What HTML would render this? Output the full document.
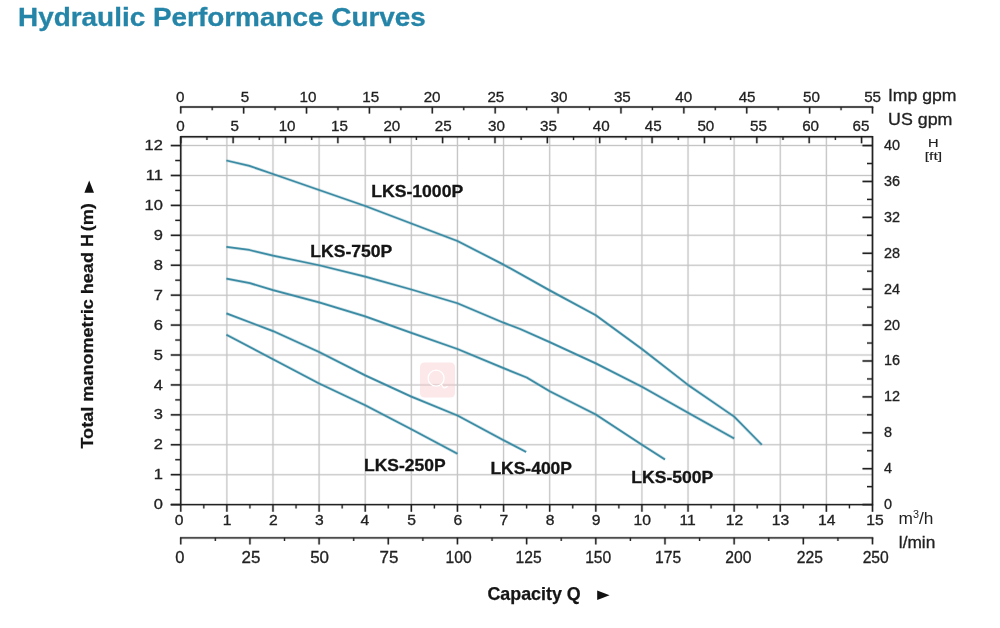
<!DOCTYPE html>
<html lang="en"><head><meta charset="utf-8"><title>Hydraulic Performance Curves</title>
<style>
html,body{margin:0;padding:0;background:#fff;}
body{width:1000px;height:628px;overflow:hidden;position:relative;font-family:"Liberation Sans",Arial,sans-serif;}
h1{-webkit-text-stroke:0.3px #2585a8;position:absolute;left:17.9px;top:0.6px;transform:scaleX(1.053);margin:0;font-size:26.5px;line-height:32px;font-weight:bold;color:#2585a8;white-space:nowrap;transform-origin:0 0;}
svg{position:absolute;left:0;top:0;}
svg text{font-family:"Liberation Sans",Arial,sans-serif;}
</style></head><body>
<h1 id="ttl">Hydraulic Performance Curves</h1>
<svg width="1000" height="628" viewBox="0 0 1000 628">
<g>
<line x1="226.87" y1="136.80" x2="226.87" y2="504.60" stroke="#c5c5c5" stroke-width="2.40" stroke-opacity="0.22"/>
<line x1="226.87" y1="136.80" x2="226.87" y2="504.60" stroke="#c5c5c5" stroke-width="1.05"/>
<line x1="272.98" y1="136.80" x2="272.98" y2="504.60" stroke="#c5c5c5" stroke-width="2.40" stroke-opacity="0.22"/>
<line x1="272.98" y1="136.80" x2="272.98" y2="504.60" stroke="#c5c5c5" stroke-width="1.05"/>
<line x1="319.10" y1="136.80" x2="319.10" y2="504.60" stroke="#c5c5c5" stroke-width="2.40" stroke-opacity="0.22"/>
<line x1="319.10" y1="136.80" x2="319.10" y2="504.60" stroke="#c5c5c5" stroke-width="1.05"/>
<line x1="365.22" y1="136.80" x2="365.22" y2="504.60" stroke="#c5c5c5" stroke-width="2.40" stroke-opacity="0.22"/>
<line x1="365.22" y1="136.80" x2="365.22" y2="504.60" stroke="#c5c5c5" stroke-width="1.05"/>
<line x1="411.33" y1="136.80" x2="411.33" y2="504.60" stroke="#c5c5c5" stroke-width="2.40" stroke-opacity="0.22"/>
<line x1="411.33" y1="136.80" x2="411.33" y2="504.60" stroke="#c5c5c5" stroke-width="1.05"/>
<line x1="457.45" y1="136.80" x2="457.45" y2="504.60" stroke="#c5c5c5" stroke-width="2.40" stroke-opacity="0.22"/>
<line x1="457.45" y1="136.80" x2="457.45" y2="504.60" stroke="#c5c5c5" stroke-width="1.05"/>
<line x1="503.57" y1="136.80" x2="503.57" y2="504.60" stroke="#c5c5c5" stroke-width="2.40" stroke-opacity="0.22"/>
<line x1="503.57" y1="136.80" x2="503.57" y2="504.60" stroke="#c5c5c5" stroke-width="1.05"/>
<line x1="549.69" y1="136.80" x2="549.69" y2="504.60" stroke="#c5c5c5" stroke-width="2.40" stroke-opacity="0.22"/>
<line x1="549.69" y1="136.80" x2="549.69" y2="504.60" stroke="#c5c5c5" stroke-width="1.05"/>
<line x1="595.80" y1="136.80" x2="595.80" y2="504.60" stroke="#c5c5c5" stroke-width="2.40" stroke-opacity="0.22"/>
<line x1="595.80" y1="136.80" x2="595.80" y2="504.60" stroke="#c5c5c5" stroke-width="1.05"/>
<line x1="641.92" y1="136.80" x2="641.92" y2="504.60" stroke="#c5c5c5" stroke-width="2.40" stroke-opacity="0.22"/>
<line x1="641.92" y1="136.80" x2="641.92" y2="504.60" stroke="#c5c5c5" stroke-width="1.05"/>
<line x1="688.04" y1="136.80" x2="688.04" y2="504.60" stroke="#c5c5c5" stroke-width="2.40" stroke-opacity="0.22"/>
<line x1="688.04" y1="136.80" x2="688.04" y2="504.60" stroke="#c5c5c5" stroke-width="1.05"/>
<line x1="734.15" y1="136.80" x2="734.15" y2="504.60" stroke="#c5c5c5" stroke-width="2.40" stroke-opacity="0.22"/>
<line x1="734.15" y1="136.80" x2="734.15" y2="504.60" stroke="#c5c5c5" stroke-width="1.05"/>
<line x1="780.27" y1="136.80" x2="780.27" y2="504.60" stroke="#c5c5c5" stroke-width="2.40" stroke-opacity="0.22"/>
<line x1="780.27" y1="136.80" x2="780.27" y2="504.60" stroke="#c5c5c5" stroke-width="1.05"/>
<line x1="826.39" y1="136.80" x2="826.39" y2="504.60" stroke="#c5c5c5" stroke-width="2.40" stroke-opacity="0.22"/>
<line x1="826.39" y1="136.80" x2="826.39" y2="504.60" stroke="#c5c5c5" stroke-width="1.05"/>
<line x1="180.75" y1="474.68" x2="872.50" y2="474.68" stroke="#c5c5c5" stroke-width="2.40" stroke-opacity="0.22"/>
<line x1="180.75" y1="474.68" x2="872.50" y2="474.68" stroke="#c5c5c5" stroke-width="1.05"/>
<line x1="180.75" y1="444.76" x2="872.50" y2="444.76" stroke="#c5c5c5" stroke-width="2.40" stroke-opacity="0.22"/>
<line x1="180.75" y1="444.76" x2="872.50" y2="444.76" stroke="#c5c5c5" stroke-width="1.05"/>
<line x1="180.75" y1="414.84" x2="872.50" y2="414.84" stroke="#c5c5c5" stroke-width="2.40" stroke-opacity="0.22"/>
<line x1="180.75" y1="414.84" x2="872.50" y2="414.84" stroke="#c5c5c5" stroke-width="1.05"/>
<line x1="180.75" y1="384.92" x2="872.50" y2="384.92" stroke="#c5c5c5" stroke-width="2.40" stroke-opacity="0.22"/>
<line x1="180.75" y1="384.92" x2="872.50" y2="384.92" stroke="#c5c5c5" stroke-width="1.05"/>
<line x1="180.75" y1="355.00" x2="872.50" y2="355.00" stroke="#c5c5c5" stroke-width="2.40" stroke-opacity="0.22"/>
<line x1="180.75" y1="355.00" x2="872.50" y2="355.00" stroke="#c5c5c5" stroke-width="1.05"/>
<line x1="180.75" y1="325.08" x2="872.50" y2="325.08" stroke="#c5c5c5" stroke-width="2.40" stroke-opacity="0.22"/>
<line x1="180.75" y1="325.08" x2="872.50" y2="325.08" stroke="#c5c5c5" stroke-width="1.05"/>
<line x1="180.75" y1="295.16" x2="872.50" y2="295.16" stroke="#c5c5c5" stroke-width="2.40" stroke-opacity="0.22"/>
<line x1="180.75" y1="295.16" x2="872.50" y2="295.16" stroke="#c5c5c5" stroke-width="1.05"/>
<line x1="180.75" y1="265.24" x2="872.50" y2="265.24" stroke="#c5c5c5" stroke-width="2.40" stroke-opacity="0.22"/>
<line x1="180.75" y1="265.24" x2="872.50" y2="265.24" stroke="#c5c5c5" stroke-width="1.05"/>
<line x1="180.75" y1="235.32" x2="872.50" y2="235.32" stroke="#c5c5c5" stroke-width="2.40" stroke-opacity="0.22"/>
<line x1="180.75" y1="235.32" x2="872.50" y2="235.32" stroke="#c5c5c5" stroke-width="1.05"/>
<line x1="180.75" y1="205.40" x2="872.50" y2="205.40" stroke="#c5c5c5" stroke-width="2.40" stroke-opacity="0.22"/>
<line x1="180.75" y1="205.40" x2="872.50" y2="205.40" stroke="#c5c5c5" stroke-width="1.05"/>
<line x1="180.75" y1="175.48" x2="872.50" y2="175.48" stroke="#c5c5c5" stroke-width="2.40" stroke-opacity="0.22"/>
<line x1="180.75" y1="175.48" x2="872.50" y2="175.48" stroke="#c5c5c5" stroke-width="1.05"/>
<line x1="180.75" y1="145.56" x2="872.50" y2="145.56" stroke="#c5c5c5" stroke-width="2.40" stroke-opacity="0.22"/>
<line x1="180.75" y1="145.56" x2="872.50" y2="145.56" stroke="#c5c5c5" stroke-width="1.05"/>
</g>
<g><rect x="420" y="362.5" width="35" height="35" rx="4.5" fill="#f6bfc4" fill-opacity="0.37"/><circle cx="436.1" cy="378.2" r="8" fill="none" stroke="#fff" stroke-width="1.3"/><path d="M441.5 384.6 Q443.5 390 447.3 386.6" fill="none" stroke="#fff" stroke-width="1.3" stroke-linecap="round"/></g>
<path d="M226.41 160.52 L249.46 165.91 L272.98 173.98 L365.22 206.00 L457.45 241.00 L503.57 264.64 L549.69 290.37 L595.80 315.21 L641.92 349.02 L688.04 384.92 L734.15 416.64 L761.82 444.76" fill="none" stroke="#3a8ba3" stroke-width="3.2" stroke-opacity="0.25" stroke-linejoin="round"/>
<path d="M226.41 160.52 L249.46 165.91 L272.98 173.98 L365.22 206.00 L457.45 241.00 L503.57 264.64 L549.69 290.37 L595.80 315.21 L641.92 349.02 L688.04 384.92 L734.15 416.64 L761.82 444.76" fill="none" stroke="#3a8ba3" stroke-width="1.75" stroke-linejoin="round"/>
<path d="M226.41 246.99 L249.46 249.98 L272.98 255.67 L319.10 265.24 L365.22 276.61 L411.33 289.48 L457.45 303.24 L503.57 322.69 L520.17 328.97 L549.69 342.13 L595.80 363.38 L641.92 386.72 L688.04 412.75 L734.15 438.48" fill="none" stroke="#3a8ba3" stroke-width="3.2" stroke-opacity="0.25" stroke-linejoin="round"/>
<path d="M226.41 246.99 L249.46 249.98 L272.98 255.67 L319.10 265.24 L365.22 276.61 L411.33 289.48 L457.45 303.24 L503.57 322.69 L520.17 328.97 L549.69 342.13 L595.80 363.38 L641.92 386.72 L688.04 412.75 L734.15 438.48" fill="none" stroke="#3a8ba3" stroke-width="1.75" stroke-linejoin="round"/>
<path d="M226.41 278.70 L249.93 283.19 L272.98 290.07 L319.10 302.34 L365.22 316.40 L411.33 332.86 L457.45 349.02 L503.57 368.16 L526.63 377.44 L549.69 391.20 L595.80 414.54 L641.92 444.76 L664.98 459.42" fill="none" stroke="#3a8ba3" stroke-width="3.2" stroke-opacity="0.25" stroke-linejoin="round"/>
<path d="M226.41 278.70 L249.93 283.19 L272.98 290.07 L319.10 302.34 L365.22 316.40 L411.33 332.86 L457.45 349.02 L503.57 368.16 L526.63 377.44 L549.69 391.20 L595.80 414.54 L641.92 444.76 L664.98 459.42" fill="none" stroke="#3a8ba3" stroke-width="1.75" stroke-linejoin="round"/>
<path d="M226.41 313.41 L272.98 331.06 L319.10 352.01 L365.22 375.35 L411.33 396.59 L457.45 415.44 L503.57 440.27 L526.17 451.94" fill="none" stroke="#3a8ba3" stroke-width="3.2" stroke-opacity="0.25" stroke-linejoin="round"/>
<path d="M226.41 313.41 L272.98 331.06 L319.10 352.01 L365.22 375.35 L411.33 396.59 L457.45 415.44 L503.57 440.27 L526.17 451.94" fill="none" stroke="#3a8ba3" stroke-width="1.75" stroke-linejoin="round"/>
<path d="M226.41 334.65 L272.98 359.19 L319.10 383.42 L365.22 405.27 L411.33 429.20 L457.45 453.74" fill="none" stroke="#3a8ba3" stroke-width="3.2" stroke-opacity="0.25" stroke-linejoin="round"/>
<path d="M226.41 334.65 L272.98 359.19 L319.10 383.42 L365.22 405.27 L411.33 429.20 L457.45 453.74" fill="none" stroke="#3a8ba3" stroke-width="1.75" stroke-linejoin="round"/>
<line x1="180.75" y1="136.05" x2="180.75" y2="505.35" stroke="#222" stroke-width="2.80" stroke-opacity="0.22"/>
<line x1="180.75" y1="136.05" x2="180.75" y2="505.35" stroke="#222" stroke-width="1.45"/>
<line x1="872.50" y1="136.05" x2="872.50" y2="505.35" stroke="#222" stroke-width="2.80" stroke-opacity="0.22"/>
<line x1="872.50" y1="136.05" x2="872.50" y2="505.35" stroke="#222" stroke-width="1.45"/>
<line x1="180.75" y1="136.80" x2="872.50" y2="136.80" stroke="#222" stroke-width="2.80" stroke-opacity="0.22"/>
<line x1="180.75" y1="136.80" x2="872.50" y2="136.80" stroke="#222" stroke-width="1.45"/>
<line x1="170.75" y1="504.60" x2="872.50" y2="504.60" stroke="#222" stroke-width="2.80" stroke-opacity="0.22"/>
<line x1="170.75" y1="504.60" x2="872.50" y2="504.60" stroke="#222" stroke-width="1.45"/>
<line x1="170.75" y1="504.60" x2="180.75" y2="504.60" stroke="#222" stroke-width="2.80" stroke-opacity="0.22"/>
<line x1="170.75" y1="504.60" x2="180.75" y2="504.60" stroke="#222" stroke-width="1.45"/>
<text transform="translate(162.80,509.20) scale(1.16,1)" font-size="14.2" text-anchor="end" font-weight="normal" fill="#222" stroke="#222" stroke-width="0.3">0</text>
<line x1="175.25" y1="489.64" x2="180.75" y2="489.64" stroke="#222" stroke-width="2.60" stroke-opacity="0.22"/>
<line x1="175.25" y1="489.64" x2="180.75" y2="489.64" stroke="#222" stroke-width="1.25"/>
<line x1="170.75" y1="474.68" x2="180.75" y2="474.68" stroke="#222" stroke-width="2.80" stroke-opacity="0.22"/>
<line x1="170.75" y1="474.68" x2="180.75" y2="474.68" stroke="#222" stroke-width="1.45"/>
<text transform="translate(162.80,479.28) scale(1.16,1)" font-size="14.2" text-anchor="end" font-weight="normal" fill="#222" stroke="#222" stroke-width="0.3">1</text>
<line x1="175.25" y1="459.72" x2="180.75" y2="459.72" stroke="#222" stroke-width="2.60" stroke-opacity="0.22"/>
<line x1="175.25" y1="459.72" x2="180.75" y2="459.72" stroke="#222" stroke-width="1.25"/>
<line x1="170.75" y1="444.76" x2="180.75" y2="444.76" stroke="#222" stroke-width="2.80" stroke-opacity="0.22"/>
<line x1="170.75" y1="444.76" x2="180.75" y2="444.76" stroke="#222" stroke-width="1.45"/>
<text transform="translate(162.80,449.36) scale(1.16,1)" font-size="14.2" text-anchor="end" font-weight="normal" fill="#222" stroke="#222" stroke-width="0.3">2</text>
<line x1="175.25" y1="429.80" x2="180.75" y2="429.80" stroke="#222" stroke-width="2.60" stroke-opacity="0.22"/>
<line x1="175.25" y1="429.80" x2="180.75" y2="429.80" stroke="#222" stroke-width="1.25"/>
<line x1="170.75" y1="414.84" x2="180.75" y2="414.84" stroke="#222" stroke-width="2.80" stroke-opacity="0.22"/>
<line x1="170.75" y1="414.84" x2="180.75" y2="414.84" stroke="#222" stroke-width="1.45"/>
<text transform="translate(162.80,419.44) scale(1.16,1)" font-size="14.2" text-anchor="end" font-weight="normal" fill="#222" stroke="#222" stroke-width="0.3">3</text>
<line x1="175.25" y1="399.88" x2="180.75" y2="399.88" stroke="#222" stroke-width="2.60" stroke-opacity="0.22"/>
<line x1="175.25" y1="399.88" x2="180.75" y2="399.88" stroke="#222" stroke-width="1.25"/>
<line x1="170.75" y1="384.92" x2="180.75" y2="384.92" stroke="#222" stroke-width="2.80" stroke-opacity="0.22"/>
<line x1="170.75" y1="384.92" x2="180.75" y2="384.92" stroke="#222" stroke-width="1.45"/>
<text transform="translate(162.80,389.52) scale(1.16,1)" font-size="14.2" text-anchor="end" font-weight="normal" fill="#222" stroke="#222" stroke-width="0.3">4</text>
<line x1="175.25" y1="369.96" x2="180.75" y2="369.96" stroke="#222" stroke-width="2.60" stroke-opacity="0.22"/>
<line x1="175.25" y1="369.96" x2="180.75" y2="369.96" stroke="#222" stroke-width="1.25"/>
<line x1="170.75" y1="355.00" x2="180.75" y2="355.00" stroke="#222" stroke-width="2.80" stroke-opacity="0.22"/>
<line x1="170.75" y1="355.00" x2="180.75" y2="355.00" stroke="#222" stroke-width="1.45"/>
<text transform="translate(162.80,359.60) scale(1.16,1)" font-size="14.2" text-anchor="end" font-weight="normal" fill="#222" stroke="#222" stroke-width="0.3">5</text>
<line x1="175.25" y1="340.04" x2="180.75" y2="340.04" stroke="#222" stroke-width="2.60" stroke-opacity="0.22"/>
<line x1="175.25" y1="340.04" x2="180.75" y2="340.04" stroke="#222" stroke-width="1.25"/>
<line x1="170.75" y1="325.08" x2="180.75" y2="325.08" stroke="#222" stroke-width="2.80" stroke-opacity="0.22"/>
<line x1="170.75" y1="325.08" x2="180.75" y2="325.08" stroke="#222" stroke-width="1.45"/>
<text transform="translate(162.80,329.68) scale(1.16,1)" font-size="14.2" text-anchor="end" font-weight="normal" fill="#222" stroke="#222" stroke-width="0.3">6</text>
<line x1="175.25" y1="310.12" x2="180.75" y2="310.12" stroke="#222" stroke-width="2.60" stroke-opacity="0.22"/>
<line x1="175.25" y1="310.12" x2="180.75" y2="310.12" stroke="#222" stroke-width="1.25"/>
<line x1="170.75" y1="295.16" x2="180.75" y2="295.16" stroke="#222" stroke-width="2.80" stroke-opacity="0.22"/>
<line x1="170.75" y1="295.16" x2="180.75" y2="295.16" stroke="#222" stroke-width="1.45"/>
<text transform="translate(162.80,299.76) scale(1.16,1)" font-size="14.2" text-anchor="end" font-weight="normal" fill="#222" stroke="#222" stroke-width="0.3">7</text>
<line x1="175.25" y1="280.20" x2="180.75" y2="280.20" stroke="#222" stroke-width="2.60" stroke-opacity="0.22"/>
<line x1="175.25" y1="280.20" x2="180.75" y2="280.20" stroke="#222" stroke-width="1.25"/>
<line x1="170.75" y1="265.24" x2="180.75" y2="265.24" stroke="#222" stroke-width="2.80" stroke-opacity="0.22"/>
<line x1="170.75" y1="265.24" x2="180.75" y2="265.24" stroke="#222" stroke-width="1.45"/>
<text transform="translate(162.80,269.84) scale(1.16,1)" font-size="14.2" text-anchor="end" font-weight="normal" fill="#222" stroke="#222" stroke-width="0.3">8</text>
<line x1="175.25" y1="250.28" x2="180.75" y2="250.28" stroke="#222" stroke-width="2.60" stroke-opacity="0.22"/>
<line x1="175.25" y1="250.28" x2="180.75" y2="250.28" stroke="#222" stroke-width="1.25"/>
<line x1="170.75" y1="235.32" x2="180.75" y2="235.32" stroke="#222" stroke-width="2.80" stroke-opacity="0.22"/>
<line x1="170.75" y1="235.32" x2="180.75" y2="235.32" stroke="#222" stroke-width="1.45"/>
<text transform="translate(162.80,239.92) scale(1.16,1)" font-size="14.2" text-anchor="end" font-weight="normal" fill="#222" stroke="#222" stroke-width="0.3">9</text>
<line x1="175.25" y1="220.36" x2="180.75" y2="220.36" stroke="#222" stroke-width="2.60" stroke-opacity="0.22"/>
<line x1="175.25" y1="220.36" x2="180.75" y2="220.36" stroke="#222" stroke-width="1.25"/>
<line x1="170.75" y1="205.40" x2="180.75" y2="205.40" stroke="#222" stroke-width="2.80" stroke-opacity="0.22"/>
<line x1="170.75" y1="205.40" x2="180.75" y2="205.40" stroke="#222" stroke-width="1.45"/>
<text transform="translate(162.80,210.00) scale(1.16,1)" font-size="14.2" text-anchor="end" font-weight="normal" fill="#222" stroke="#222" stroke-width="0.3">10</text>
<line x1="175.25" y1="190.44" x2="180.75" y2="190.44" stroke="#222" stroke-width="2.60" stroke-opacity="0.22"/>
<line x1="175.25" y1="190.44" x2="180.75" y2="190.44" stroke="#222" stroke-width="1.25"/>
<line x1="170.75" y1="175.48" x2="180.75" y2="175.48" stroke="#222" stroke-width="2.80" stroke-opacity="0.22"/>
<line x1="170.75" y1="175.48" x2="180.75" y2="175.48" stroke="#222" stroke-width="1.45"/>
<text transform="translate(162.80,180.08) scale(1.16,1)" font-size="14.2" text-anchor="end" font-weight="normal" fill="#222" stroke="#222" stroke-width="0.3">11</text>
<line x1="175.25" y1="160.52" x2="180.75" y2="160.52" stroke="#222" stroke-width="2.60" stroke-opacity="0.22"/>
<line x1="175.25" y1="160.52" x2="180.75" y2="160.52" stroke="#222" stroke-width="1.25"/>
<line x1="170.75" y1="145.56" x2="180.75" y2="145.56" stroke="#222" stroke-width="2.80" stroke-opacity="0.22"/>
<line x1="170.75" y1="145.56" x2="180.75" y2="145.56" stroke="#222" stroke-width="1.45"/>
<text transform="translate(162.80,150.16) scale(1.16,1)" font-size="14.2" text-anchor="end" font-weight="normal" fill="#222" stroke="#222" stroke-width="0.3">12</text>
<line x1="862.50" y1="504.60" x2="872.50" y2="504.60" stroke="#222" stroke-width="2.80" stroke-opacity="0.22"/>
<line x1="862.50" y1="504.60" x2="872.50" y2="504.60" stroke="#222" stroke-width="1.45"/>
<text transform="translate(884.00,509.10) scale(1.03,1)" font-size="14" text-anchor="start" font-weight="normal" fill="#222" stroke="#222" stroke-width="0.3">0</text>
<line x1="867.00" y1="486.65" x2="872.50" y2="486.65" stroke="#222" stroke-width="2.60" stroke-opacity="0.22"/>
<line x1="867.00" y1="486.65" x2="872.50" y2="486.65" stroke="#222" stroke-width="1.25"/>
<line x1="862.50" y1="468.70" x2="872.50" y2="468.70" stroke="#222" stroke-width="2.80" stroke-opacity="0.22"/>
<line x1="862.50" y1="468.70" x2="872.50" y2="468.70" stroke="#222" stroke-width="1.45"/>
<text transform="translate(884.00,473.20) scale(1.03,1)" font-size="14" text-anchor="start" font-weight="normal" fill="#222" stroke="#222" stroke-width="0.3">4</text>
<line x1="867.00" y1="450.74" x2="872.50" y2="450.74" stroke="#222" stroke-width="2.60" stroke-opacity="0.22"/>
<line x1="867.00" y1="450.74" x2="872.50" y2="450.74" stroke="#222" stroke-width="1.25"/>
<line x1="862.50" y1="432.79" x2="872.50" y2="432.79" stroke="#222" stroke-width="2.80" stroke-opacity="0.22"/>
<line x1="862.50" y1="432.79" x2="872.50" y2="432.79" stroke="#222" stroke-width="1.45"/>
<text transform="translate(884.00,437.29) scale(1.03,1)" font-size="14" text-anchor="start" font-weight="normal" fill="#222" stroke="#222" stroke-width="0.3">8</text>
<line x1="867.00" y1="414.84" x2="872.50" y2="414.84" stroke="#222" stroke-width="2.60" stroke-opacity="0.22"/>
<line x1="867.00" y1="414.84" x2="872.50" y2="414.84" stroke="#222" stroke-width="1.25"/>
<line x1="862.50" y1="396.89" x2="872.50" y2="396.89" stroke="#222" stroke-width="2.80" stroke-opacity="0.22"/>
<line x1="862.50" y1="396.89" x2="872.50" y2="396.89" stroke="#222" stroke-width="1.45"/>
<text transform="translate(884.00,401.39) scale(1.03,1)" font-size="14" text-anchor="start" font-weight="normal" fill="#222" stroke="#222" stroke-width="0.3">12</text>
<line x1="867.00" y1="378.94" x2="872.50" y2="378.94" stroke="#222" stroke-width="2.60" stroke-opacity="0.22"/>
<line x1="867.00" y1="378.94" x2="872.50" y2="378.94" stroke="#222" stroke-width="1.25"/>
<line x1="862.50" y1="360.98" x2="872.50" y2="360.98" stroke="#222" stroke-width="2.80" stroke-opacity="0.22"/>
<line x1="862.50" y1="360.98" x2="872.50" y2="360.98" stroke="#222" stroke-width="1.45"/>
<text transform="translate(884.00,365.48) scale(1.03,1)" font-size="14" text-anchor="start" font-weight="normal" fill="#222" stroke="#222" stroke-width="0.3">16</text>
<line x1="867.00" y1="343.03" x2="872.50" y2="343.03" stroke="#222" stroke-width="2.60" stroke-opacity="0.22"/>
<line x1="867.00" y1="343.03" x2="872.50" y2="343.03" stroke="#222" stroke-width="1.25"/>
<line x1="862.50" y1="325.08" x2="872.50" y2="325.08" stroke="#222" stroke-width="2.80" stroke-opacity="0.22"/>
<line x1="862.50" y1="325.08" x2="872.50" y2="325.08" stroke="#222" stroke-width="1.45"/>
<text transform="translate(884.00,329.58) scale(1.03,1)" font-size="14" text-anchor="start" font-weight="normal" fill="#222" stroke="#222" stroke-width="0.3">20</text>
<line x1="867.00" y1="307.13" x2="872.50" y2="307.13" stroke="#222" stroke-width="2.60" stroke-opacity="0.22"/>
<line x1="867.00" y1="307.13" x2="872.50" y2="307.13" stroke="#222" stroke-width="1.25"/>
<line x1="862.50" y1="289.18" x2="872.50" y2="289.18" stroke="#222" stroke-width="2.80" stroke-opacity="0.22"/>
<line x1="862.50" y1="289.18" x2="872.50" y2="289.18" stroke="#222" stroke-width="1.45"/>
<text transform="translate(884.00,293.68) scale(1.03,1)" font-size="14" text-anchor="start" font-weight="normal" fill="#222" stroke="#222" stroke-width="0.3">24</text>
<line x1="867.00" y1="271.22" x2="872.50" y2="271.22" stroke="#222" stroke-width="2.60" stroke-opacity="0.22"/>
<line x1="867.00" y1="271.22" x2="872.50" y2="271.22" stroke="#222" stroke-width="1.25"/>
<line x1="862.50" y1="253.27" x2="872.50" y2="253.27" stroke="#222" stroke-width="2.80" stroke-opacity="0.22"/>
<line x1="862.50" y1="253.27" x2="872.50" y2="253.27" stroke="#222" stroke-width="1.45"/>
<text transform="translate(884.00,257.77) scale(1.03,1)" font-size="14" text-anchor="start" font-weight="normal" fill="#222" stroke="#222" stroke-width="0.3">28</text>
<line x1="867.00" y1="235.32" x2="872.50" y2="235.32" stroke="#222" stroke-width="2.60" stroke-opacity="0.22"/>
<line x1="867.00" y1="235.32" x2="872.50" y2="235.32" stroke="#222" stroke-width="1.25"/>
<line x1="862.50" y1="217.37" x2="872.50" y2="217.37" stroke="#222" stroke-width="2.80" stroke-opacity="0.22"/>
<line x1="862.50" y1="217.37" x2="872.50" y2="217.37" stroke="#222" stroke-width="1.45"/>
<text transform="translate(884.00,221.87) scale(1.03,1)" font-size="14" text-anchor="start" font-weight="normal" fill="#222" stroke="#222" stroke-width="0.3">32</text>
<line x1="867.00" y1="199.42" x2="872.50" y2="199.42" stroke="#222" stroke-width="2.60" stroke-opacity="0.22"/>
<line x1="867.00" y1="199.42" x2="872.50" y2="199.42" stroke="#222" stroke-width="1.25"/>
<line x1="862.50" y1="181.46" x2="872.50" y2="181.46" stroke="#222" stroke-width="2.80" stroke-opacity="0.22"/>
<line x1="862.50" y1="181.46" x2="872.50" y2="181.46" stroke="#222" stroke-width="1.45"/>
<text transform="translate(884.00,185.96) scale(1.03,1)" font-size="14" text-anchor="start" font-weight="normal" fill="#222" stroke="#222" stroke-width="0.3">36</text>
<line x1="867.00" y1="163.51" x2="872.50" y2="163.51" stroke="#222" stroke-width="2.60" stroke-opacity="0.22"/>
<line x1="867.00" y1="163.51" x2="872.50" y2="163.51" stroke="#222" stroke-width="1.25"/>
<line x1="862.50" y1="145.56" x2="872.50" y2="145.56" stroke="#222" stroke-width="2.80" stroke-opacity="0.22"/>
<line x1="862.50" y1="145.56" x2="872.50" y2="145.56" stroke="#222" stroke-width="1.45"/>
<text transform="translate(884.00,150.06) scale(1.03,1)" font-size="14" text-anchor="start" font-weight="normal" fill="#222" stroke="#222" stroke-width="0.3">40</text>
<line x1="180.75" y1="504.60" x2="180.75" y2="511.80" stroke="#222" stroke-width="2.70" stroke-opacity="0.22"/>
<line x1="180.75" y1="504.60" x2="180.75" y2="511.80" stroke="#222" stroke-width="1.35"/>
<text transform="translate(179.05,525.40) scale(1.12,1)" font-size="14" text-anchor="middle" font-weight="normal" fill="#222" stroke="#222" stroke-width="0.3">0</text>
<line x1="203.81" y1="504.60" x2="203.81" y2="508.40" stroke="#222" stroke-width="2.50" stroke-opacity="0.22"/>
<line x1="203.81" y1="504.60" x2="203.81" y2="508.40" stroke="#222" stroke-width="1.15"/>
<line x1="226.87" y1="504.60" x2="226.87" y2="511.80" stroke="#222" stroke-width="2.70" stroke-opacity="0.22"/>
<line x1="226.87" y1="504.60" x2="226.87" y2="511.80" stroke="#222" stroke-width="1.35"/>
<text transform="translate(227.17,525.40) scale(1.12,1)" font-size="14" text-anchor="middle" font-weight="normal" fill="#222" stroke="#222" stroke-width="0.3">1</text>
<line x1="249.93" y1="504.60" x2="249.93" y2="508.40" stroke="#222" stroke-width="2.50" stroke-opacity="0.22"/>
<line x1="249.93" y1="504.60" x2="249.93" y2="508.40" stroke="#222" stroke-width="1.15"/>
<line x1="272.98" y1="504.60" x2="272.98" y2="511.80" stroke="#222" stroke-width="2.70" stroke-opacity="0.22"/>
<line x1="272.98" y1="504.60" x2="272.98" y2="511.80" stroke="#222" stroke-width="1.35"/>
<text transform="translate(273.28,525.40) scale(1.12,1)" font-size="14" text-anchor="middle" font-weight="normal" fill="#222" stroke="#222" stroke-width="0.3">2</text>
<line x1="296.04" y1="504.60" x2="296.04" y2="508.40" stroke="#222" stroke-width="2.50" stroke-opacity="0.22"/>
<line x1="296.04" y1="504.60" x2="296.04" y2="508.40" stroke="#222" stroke-width="1.15"/>
<line x1="319.10" y1="504.60" x2="319.10" y2="511.80" stroke="#222" stroke-width="2.70" stroke-opacity="0.22"/>
<line x1="319.10" y1="504.60" x2="319.10" y2="511.80" stroke="#222" stroke-width="1.35"/>
<text transform="translate(319.40,525.40) scale(1.12,1)" font-size="14" text-anchor="middle" font-weight="normal" fill="#222" stroke="#222" stroke-width="0.3">3</text>
<line x1="342.16" y1="504.60" x2="342.16" y2="508.40" stroke="#222" stroke-width="2.50" stroke-opacity="0.22"/>
<line x1="342.16" y1="504.60" x2="342.16" y2="508.40" stroke="#222" stroke-width="1.15"/>
<line x1="365.22" y1="504.60" x2="365.22" y2="511.80" stroke="#222" stroke-width="2.70" stroke-opacity="0.22"/>
<line x1="365.22" y1="504.60" x2="365.22" y2="511.80" stroke="#222" stroke-width="1.35"/>
<text transform="translate(364.82,525.40) scale(1.12,1)" font-size="14" text-anchor="middle" font-weight="normal" fill="#222" stroke="#222" stroke-width="0.3">4</text>
<line x1="388.28" y1="504.60" x2="388.28" y2="508.40" stroke="#222" stroke-width="2.50" stroke-opacity="0.22"/>
<line x1="388.28" y1="504.60" x2="388.28" y2="508.40" stroke="#222" stroke-width="1.15"/>
<line x1="411.33" y1="504.60" x2="411.33" y2="511.80" stroke="#222" stroke-width="2.70" stroke-opacity="0.22"/>
<line x1="411.33" y1="504.60" x2="411.33" y2="511.80" stroke="#222" stroke-width="1.35"/>
<text transform="translate(411.63,525.40) scale(1.12,1)" font-size="14" text-anchor="middle" font-weight="normal" fill="#222" stroke="#222" stroke-width="0.3">5</text>
<line x1="434.39" y1="504.60" x2="434.39" y2="508.40" stroke="#222" stroke-width="2.50" stroke-opacity="0.22"/>
<line x1="434.39" y1="504.60" x2="434.39" y2="508.40" stroke="#222" stroke-width="1.15"/>
<line x1="457.45" y1="504.60" x2="457.45" y2="511.80" stroke="#222" stroke-width="2.70" stroke-opacity="0.22"/>
<line x1="457.45" y1="504.60" x2="457.45" y2="511.80" stroke="#222" stroke-width="1.35"/>
<text transform="translate(457.75,525.40) scale(1.12,1)" font-size="14" text-anchor="middle" font-weight="normal" fill="#222" stroke="#222" stroke-width="0.3">6</text>
<line x1="480.51" y1="504.60" x2="480.51" y2="508.40" stroke="#222" stroke-width="2.50" stroke-opacity="0.22"/>
<line x1="480.51" y1="504.60" x2="480.51" y2="508.40" stroke="#222" stroke-width="1.15"/>
<line x1="503.57" y1="504.60" x2="503.57" y2="511.80" stroke="#222" stroke-width="2.70" stroke-opacity="0.22"/>
<line x1="503.57" y1="504.60" x2="503.57" y2="511.80" stroke="#222" stroke-width="1.35"/>
<text transform="translate(503.87,525.40) scale(1.12,1)" font-size="14" text-anchor="middle" font-weight="normal" fill="#222" stroke="#222" stroke-width="0.3">7</text>
<line x1="526.63" y1="504.60" x2="526.63" y2="508.40" stroke="#222" stroke-width="2.50" stroke-opacity="0.22"/>
<line x1="526.63" y1="504.60" x2="526.63" y2="508.40" stroke="#222" stroke-width="1.15"/>
<line x1="549.69" y1="504.60" x2="549.69" y2="511.80" stroke="#222" stroke-width="2.70" stroke-opacity="0.22"/>
<line x1="549.69" y1="504.60" x2="549.69" y2="511.80" stroke="#222" stroke-width="1.35"/>
<text transform="translate(549.99,525.40) scale(1.12,1)" font-size="14" text-anchor="middle" font-weight="normal" fill="#222" stroke="#222" stroke-width="0.3">8</text>
<line x1="572.74" y1="504.60" x2="572.74" y2="508.40" stroke="#222" stroke-width="2.50" stroke-opacity="0.22"/>
<line x1="572.74" y1="504.60" x2="572.74" y2="508.40" stroke="#222" stroke-width="1.15"/>
<line x1="595.80" y1="504.60" x2="595.80" y2="511.80" stroke="#222" stroke-width="2.70" stroke-opacity="0.22"/>
<line x1="595.80" y1="504.60" x2="595.80" y2="511.80" stroke="#222" stroke-width="1.35"/>
<text transform="translate(596.10,525.40) scale(1.12,1)" font-size="14" text-anchor="middle" font-weight="normal" fill="#222" stroke="#222" stroke-width="0.3">9</text>
<line x1="618.86" y1="504.60" x2="618.86" y2="508.40" stroke="#222" stroke-width="2.50" stroke-opacity="0.22"/>
<line x1="618.86" y1="504.60" x2="618.86" y2="508.40" stroke="#222" stroke-width="1.15"/>
<line x1="641.92" y1="504.60" x2="641.92" y2="511.80" stroke="#222" stroke-width="2.70" stroke-opacity="0.22"/>
<line x1="641.92" y1="504.60" x2="641.92" y2="511.80" stroke="#222" stroke-width="1.35"/>
<text transform="translate(642.22,525.40) scale(1.12,1)" font-size="14" text-anchor="middle" font-weight="normal" fill="#222" stroke="#222" stroke-width="0.3">10</text>
<line x1="664.98" y1="504.60" x2="664.98" y2="508.40" stroke="#222" stroke-width="2.50" stroke-opacity="0.22"/>
<line x1="664.98" y1="504.60" x2="664.98" y2="508.40" stroke="#222" stroke-width="1.15"/>
<line x1="688.04" y1="504.60" x2="688.04" y2="511.80" stroke="#222" stroke-width="2.70" stroke-opacity="0.22"/>
<line x1="688.04" y1="504.60" x2="688.04" y2="511.80" stroke="#222" stroke-width="1.35"/>
<text transform="translate(687.64,525.40) scale(1.12,1)" font-size="14" text-anchor="middle" font-weight="normal" fill="#222" stroke="#222" stroke-width="0.3">11</text>
<line x1="711.10" y1="504.60" x2="711.10" y2="508.40" stroke="#222" stroke-width="2.50" stroke-opacity="0.22"/>
<line x1="711.10" y1="504.60" x2="711.10" y2="508.40" stroke="#222" stroke-width="1.15"/>
<line x1="734.15" y1="504.60" x2="734.15" y2="511.80" stroke="#222" stroke-width="2.70" stroke-opacity="0.22"/>
<line x1="734.15" y1="504.60" x2="734.15" y2="511.80" stroke="#222" stroke-width="1.35"/>
<text transform="translate(734.45,525.40) scale(1.12,1)" font-size="14" text-anchor="middle" font-weight="normal" fill="#222" stroke="#222" stroke-width="0.3">12</text>
<line x1="757.21" y1="504.60" x2="757.21" y2="508.40" stroke="#222" stroke-width="2.50" stroke-opacity="0.22"/>
<line x1="757.21" y1="504.60" x2="757.21" y2="508.40" stroke="#222" stroke-width="1.15"/>
<line x1="780.27" y1="504.60" x2="780.27" y2="511.80" stroke="#222" stroke-width="2.70" stroke-opacity="0.22"/>
<line x1="780.27" y1="504.60" x2="780.27" y2="511.80" stroke="#222" stroke-width="1.35"/>
<text transform="translate(780.57,525.40) scale(1.12,1)" font-size="14" text-anchor="middle" font-weight="normal" fill="#222" stroke="#222" stroke-width="0.3">13</text>
<line x1="803.33" y1="504.60" x2="803.33" y2="508.40" stroke="#222" stroke-width="2.50" stroke-opacity="0.22"/>
<line x1="803.33" y1="504.60" x2="803.33" y2="508.40" stroke="#222" stroke-width="1.15"/>
<line x1="826.39" y1="504.60" x2="826.39" y2="511.80" stroke="#222" stroke-width="2.70" stroke-opacity="0.22"/>
<line x1="826.39" y1="504.60" x2="826.39" y2="511.80" stroke="#222" stroke-width="1.35"/>
<text transform="translate(826.69,525.40) scale(1.12,1)" font-size="14" text-anchor="middle" font-weight="normal" fill="#222" stroke="#222" stroke-width="0.3">14</text>
<line x1="849.45" y1="504.60" x2="849.45" y2="508.40" stroke="#222" stroke-width="2.50" stroke-opacity="0.22"/>
<line x1="849.45" y1="504.60" x2="849.45" y2="508.40" stroke="#222" stroke-width="1.15"/>
<line x1="872.50" y1="504.60" x2="872.50" y2="511.80" stroke="#222" stroke-width="2.70" stroke-opacity="0.22"/>
<line x1="872.50" y1="504.60" x2="872.50" y2="511.80" stroke="#222" stroke-width="1.35"/>
<text transform="translate(875.00,525.40) scale(1.12,1)" font-size="14" text-anchor="middle" font-weight="normal" fill="#222" stroke="#222" stroke-width="0.3">15</text>
<line x1="179.95" y1="537.80" x2="873.30" y2="537.80" stroke="#222" stroke-width="2.70" stroke-opacity="0.22"/>
<line x1="179.95" y1="537.80" x2="873.30" y2="537.80" stroke="#222" stroke-width="1.35"/>
<line x1="180.75" y1="537.80" x2="180.75" y2="544.40" stroke="#222" stroke-width="2.70" stroke-opacity="0.22"/>
<line x1="180.75" y1="537.80" x2="180.75" y2="544.40" stroke="#222" stroke-width="1.35"/>
<text transform="translate(179.95,563.00) scale(1.0,1)" font-size="16.5" text-anchor="middle" font-weight="normal" fill="#222" stroke="#222" stroke-width="0.3">0</text>
<line x1="215.34" y1="537.80" x2="215.34" y2="541.00" stroke="#222" stroke-width="2.50" stroke-opacity="0.22"/>
<line x1="215.34" y1="537.80" x2="215.34" y2="541.00" stroke="#222" stroke-width="1.15"/>
<line x1="249.93" y1="537.80" x2="249.93" y2="544.40" stroke="#222" stroke-width="2.70" stroke-opacity="0.22"/>
<line x1="249.93" y1="537.80" x2="249.93" y2="544.40" stroke="#222" stroke-width="1.35"/>
<text transform="translate(250.93,563.00) scale(1.03,1)" font-size="16.5" text-anchor="middle" font-weight="normal" fill="#222" stroke="#222" stroke-width="0.3">25</text>
<line x1="284.51" y1="537.80" x2="284.51" y2="541.00" stroke="#222" stroke-width="2.50" stroke-opacity="0.22"/>
<line x1="284.51" y1="537.80" x2="284.51" y2="541.00" stroke="#222" stroke-width="1.15"/>
<line x1="319.10" y1="537.80" x2="319.10" y2="544.40" stroke="#222" stroke-width="2.70" stroke-opacity="0.22"/>
<line x1="319.10" y1="537.80" x2="319.10" y2="544.40" stroke="#222" stroke-width="1.35"/>
<text transform="translate(319.60,563.00) scale(1.03,1)" font-size="16.5" text-anchor="middle" font-weight="normal" fill="#222" stroke="#222" stroke-width="0.3">50</text>
<line x1="353.69" y1="537.80" x2="353.69" y2="541.00" stroke="#222" stroke-width="2.50" stroke-opacity="0.22"/>
<line x1="353.69" y1="537.80" x2="353.69" y2="541.00" stroke="#222" stroke-width="1.15"/>
<line x1="388.28" y1="537.80" x2="388.28" y2="544.40" stroke="#222" stroke-width="2.70" stroke-opacity="0.22"/>
<line x1="388.28" y1="537.80" x2="388.28" y2="544.40" stroke="#222" stroke-width="1.35"/>
<text transform="translate(388.98,563.00) scale(1.03,1)" font-size="16.5" text-anchor="middle" font-weight="normal" fill="#222" stroke="#222" stroke-width="0.3">75</text>
<line x1="422.86" y1="537.80" x2="422.86" y2="541.00" stroke="#222" stroke-width="2.50" stroke-opacity="0.22"/>
<line x1="422.86" y1="537.80" x2="422.86" y2="541.00" stroke="#222" stroke-width="1.15"/>
<line x1="457.45" y1="537.80" x2="457.45" y2="544.40" stroke="#222" stroke-width="2.70" stroke-opacity="0.22"/>
<line x1="457.45" y1="537.80" x2="457.45" y2="544.40" stroke="#222" stroke-width="1.35"/>
<text transform="translate(458.65,563.00) scale(0.95,1)" font-size="16.5" text-anchor="middle" font-weight="normal" fill="#222" stroke="#222" stroke-width="0.3">100</text>
<line x1="492.04" y1="537.80" x2="492.04" y2="541.00" stroke="#222" stroke-width="2.50" stroke-opacity="0.22"/>
<line x1="492.04" y1="537.80" x2="492.04" y2="541.00" stroke="#222" stroke-width="1.15"/>
<line x1="526.63" y1="537.80" x2="526.63" y2="544.40" stroke="#222" stroke-width="2.70" stroke-opacity="0.22"/>
<line x1="526.63" y1="537.80" x2="526.63" y2="544.40" stroke="#222" stroke-width="1.35"/>
<text transform="translate(528.53,563.00) scale(0.95,1)" font-size="16.5" text-anchor="middle" font-weight="normal" fill="#222" stroke="#222" stroke-width="0.3">125</text>
<line x1="561.22" y1="537.80" x2="561.22" y2="541.00" stroke="#222" stroke-width="2.50" stroke-opacity="0.22"/>
<line x1="561.22" y1="537.80" x2="561.22" y2="541.00" stroke="#222" stroke-width="1.15"/>
<line x1="595.80" y1="537.80" x2="595.80" y2="544.40" stroke="#222" stroke-width="2.70" stroke-opacity="0.22"/>
<line x1="595.80" y1="537.80" x2="595.80" y2="544.40" stroke="#222" stroke-width="1.35"/>
<text transform="translate(598.20,563.00) scale(0.95,1)" font-size="16.5" text-anchor="middle" font-weight="normal" fill="#222" stroke="#222" stroke-width="0.3">150</text>
<line x1="630.39" y1="537.80" x2="630.39" y2="541.00" stroke="#222" stroke-width="2.50" stroke-opacity="0.22"/>
<line x1="630.39" y1="537.80" x2="630.39" y2="541.00" stroke="#222" stroke-width="1.15"/>
<line x1="664.98" y1="537.80" x2="664.98" y2="544.40" stroke="#222" stroke-width="2.70" stroke-opacity="0.22"/>
<line x1="664.98" y1="537.80" x2="664.98" y2="544.40" stroke="#222" stroke-width="1.35"/>
<text transform="translate(668.18,563.00) scale(0.95,1)" font-size="16.5" text-anchor="middle" font-weight="normal" fill="#222" stroke="#222" stroke-width="0.3">175</text>
<line x1="699.57" y1="537.80" x2="699.57" y2="541.00" stroke="#222" stroke-width="2.50" stroke-opacity="0.22"/>
<line x1="699.57" y1="537.80" x2="699.57" y2="541.00" stroke="#222" stroke-width="1.15"/>
<line x1="734.15" y1="537.80" x2="734.15" y2="544.40" stroke="#222" stroke-width="2.70" stroke-opacity="0.22"/>
<line x1="734.15" y1="537.80" x2="734.15" y2="544.40" stroke="#222" stroke-width="1.35"/>
<text transform="translate(738.35,563.00) scale(0.95,1)" font-size="16.5" text-anchor="middle" font-weight="normal" fill="#222" stroke="#222" stroke-width="0.3">200</text>
<line x1="768.74" y1="537.80" x2="768.74" y2="541.00" stroke="#222" stroke-width="2.50" stroke-opacity="0.22"/>
<line x1="768.74" y1="537.80" x2="768.74" y2="541.00" stroke="#222" stroke-width="1.15"/>
<line x1="803.33" y1="537.80" x2="803.33" y2="544.40" stroke="#222" stroke-width="2.70" stroke-opacity="0.22"/>
<line x1="803.33" y1="537.80" x2="803.33" y2="544.40" stroke="#222" stroke-width="1.35"/>
<text transform="translate(809.93,563.00) scale(0.95,1)" font-size="16.5" text-anchor="middle" font-weight="normal" fill="#222" stroke="#222" stroke-width="0.3">225</text>
<line x1="837.92" y1="537.80" x2="837.92" y2="541.00" stroke="#222" stroke-width="2.50" stroke-opacity="0.22"/>
<line x1="837.92" y1="537.80" x2="837.92" y2="541.00" stroke="#222" stroke-width="1.15"/>
<line x1="872.50" y1="537.80" x2="872.50" y2="544.40" stroke="#222" stroke-width="2.70" stroke-opacity="0.22"/>
<line x1="872.50" y1="537.80" x2="872.50" y2="544.40" stroke="#222" stroke-width="1.35"/>
<text transform="translate(875.71,563.00) scale(0.95,1)" font-size="16.5" text-anchor="middle" font-weight="normal" fill="#222" stroke="#222" stroke-width="0.3">250</text>
<line x1="179.95" y1="107.00" x2="873.30" y2="107.00" stroke="#222" stroke-width="2.70" stroke-opacity="0.22"/>
<line x1="179.95" y1="107.00" x2="873.30" y2="107.00" stroke="#222" stroke-width="1.35"/>
<line x1="180.75" y1="107.00" x2="180.75" y2="113.60" stroke="#222" stroke-width="2.70" stroke-opacity="0.22"/>
<line x1="180.75" y1="107.00" x2="180.75" y2="113.60" stroke="#222" stroke-width="1.35"/>
<text transform="translate(180.25,102.00) scale(1.0,1)" font-size="15.2" text-anchor="middle" font-weight="normal" fill="#222" stroke="#222" stroke-width="0.3">0</text>
<line x1="212.19" y1="107.00" x2="212.19" y2="110.30" stroke="#222" stroke-width="2.50" stroke-opacity="0.22"/>
<line x1="212.19" y1="107.00" x2="212.19" y2="110.30" stroke="#222" stroke-width="1.15"/>
<line x1="243.64" y1="107.00" x2="243.64" y2="113.60" stroke="#222" stroke-width="2.70" stroke-opacity="0.22"/>
<line x1="243.64" y1="107.00" x2="243.64" y2="113.60" stroke="#222" stroke-width="1.35"/>
<text transform="translate(245.04,102.00) scale(1.0,1)" font-size="15.2" text-anchor="middle" font-weight="normal" fill="#222" stroke="#222" stroke-width="0.3">5</text>
<line x1="275.08" y1="107.00" x2="275.08" y2="110.30" stroke="#222" stroke-width="2.50" stroke-opacity="0.22"/>
<line x1="275.08" y1="107.00" x2="275.08" y2="110.30" stroke="#222" stroke-width="1.15"/>
<line x1="306.52" y1="107.00" x2="306.52" y2="113.60" stroke="#222" stroke-width="2.70" stroke-opacity="0.22"/>
<line x1="306.52" y1="107.00" x2="306.52" y2="113.60" stroke="#222" stroke-width="1.35"/>
<text transform="translate(307.92,102.00) scale(1.0,1)" font-size="15.2" text-anchor="middle" font-weight="normal" fill="#222" stroke="#222" stroke-width="0.3">10</text>
<line x1="337.97" y1="107.00" x2="337.97" y2="110.30" stroke="#222" stroke-width="2.50" stroke-opacity="0.22"/>
<line x1="337.97" y1="107.00" x2="337.97" y2="110.30" stroke="#222" stroke-width="1.15"/>
<line x1="369.41" y1="107.00" x2="369.41" y2="113.60" stroke="#222" stroke-width="2.70" stroke-opacity="0.22"/>
<line x1="369.41" y1="107.00" x2="369.41" y2="113.60" stroke="#222" stroke-width="1.35"/>
<text transform="translate(370.81,102.00) scale(1.0,1)" font-size="15.2" text-anchor="middle" font-weight="normal" fill="#222" stroke="#222" stroke-width="0.3">15</text>
<line x1="400.85" y1="107.00" x2="400.85" y2="110.30" stroke="#222" stroke-width="2.50" stroke-opacity="0.22"/>
<line x1="400.85" y1="107.00" x2="400.85" y2="110.30" stroke="#222" stroke-width="1.15"/>
<line x1="432.30" y1="107.00" x2="432.30" y2="113.60" stroke="#222" stroke-width="2.70" stroke-opacity="0.22"/>
<line x1="432.30" y1="107.00" x2="432.30" y2="113.60" stroke="#222" stroke-width="1.35"/>
<text transform="translate(432.10,102.00) scale(1.0,1)" font-size="15.2" text-anchor="middle" font-weight="normal" fill="#222" stroke="#222" stroke-width="0.3">20</text>
<line x1="463.74" y1="107.00" x2="463.74" y2="110.30" stroke="#222" stroke-width="2.50" stroke-opacity="0.22"/>
<line x1="463.74" y1="107.00" x2="463.74" y2="110.30" stroke="#222" stroke-width="1.15"/>
<line x1="495.18" y1="107.00" x2="495.18" y2="113.60" stroke="#222" stroke-width="2.70" stroke-opacity="0.22"/>
<line x1="495.18" y1="107.00" x2="495.18" y2="113.60" stroke="#222" stroke-width="1.35"/>
<text transform="translate(495.83,102.00) scale(1.0,1)" font-size="15.2" text-anchor="middle" font-weight="normal" fill="#222" stroke="#222" stroke-width="0.3">25</text>
<line x1="526.63" y1="107.00" x2="526.63" y2="110.30" stroke="#222" stroke-width="2.50" stroke-opacity="0.22"/>
<line x1="526.63" y1="107.00" x2="526.63" y2="110.30" stroke="#222" stroke-width="1.15"/>
<line x1="558.07" y1="107.00" x2="558.07" y2="113.60" stroke="#222" stroke-width="2.70" stroke-opacity="0.22"/>
<line x1="558.07" y1="107.00" x2="558.07" y2="113.60" stroke="#222" stroke-width="1.35"/>
<text transform="translate(558.97,102.00) scale(1.0,1)" font-size="15.2" text-anchor="middle" font-weight="normal" fill="#222" stroke="#222" stroke-width="0.3">30</text>
<line x1="589.51" y1="107.00" x2="589.51" y2="110.30" stroke="#222" stroke-width="2.50" stroke-opacity="0.22"/>
<line x1="589.51" y1="107.00" x2="589.51" y2="110.30" stroke="#222" stroke-width="1.15"/>
<line x1="620.96" y1="107.00" x2="620.96" y2="113.60" stroke="#222" stroke-width="2.70" stroke-opacity="0.22"/>
<line x1="620.96" y1="107.00" x2="620.96" y2="113.60" stroke="#222" stroke-width="1.35"/>
<text transform="translate(622.36,102.00) scale(1.0,1)" font-size="15.2" text-anchor="middle" font-weight="normal" fill="#222" stroke="#222" stroke-width="0.3">35</text>
<line x1="652.40" y1="107.00" x2="652.40" y2="110.30" stroke="#222" stroke-width="2.50" stroke-opacity="0.22"/>
<line x1="652.40" y1="107.00" x2="652.40" y2="110.30" stroke="#222" stroke-width="1.15"/>
<line x1="683.84" y1="107.00" x2="683.84" y2="113.60" stroke="#222" stroke-width="2.70" stroke-opacity="0.22"/>
<line x1="683.84" y1="107.00" x2="683.84" y2="113.60" stroke="#222" stroke-width="1.35"/>
<text transform="translate(683.74,102.00) scale(1.0,1)" font-size="15.2" text-anchor="middle" font-weight="normal" fill="#222" stroke="#222" stroke-width="0.3">40</text>
<line x1="715.29" y1="107.00" x2="715.29" y2="110.30" stroke="#222" stroke-width="2.50" stroke-opacity="0.22"/>
<line x1="715.29" y1="107.00" x2="715.29" y2="110.30" stroke="#222" stroke-width="1.15"/>
<line x1="746.73" y1="107.00" x2="746.73" y2="113.60" stroke="#222" stroke-width="2.70" stroke-opacity="0.22"/>
<line x1="746.73" y1="107.00" x2="746.73" y2="113.60" stroke="#222" stroke-width="1.35"/>
<text transform="translate(747.13,102.00) scale(1.0,1)" font-size="15.2" text-anchor="middle" font-weight="normal" fill="#222" stroke="#222" stroke-width="0.3">45</text>
<line x1="778.17" y1="107.00" x2="778.17" y2="110.30" stroke="#222" stroke-width="2.50" stroke-opacity="0.22"/>
<line x1="778.17" y1="107.00" x2="778.17" y2="110.30" stroke="#222" stroke-width="1.15"/>
<line x1="809.62" y1="107.00" x2="809.62" y2="113.60" stroke="#222" stroke-width="2.70" stroke-opacity="0.22"/>
<line x1="809.62" y1="107.00" x2="809.62" y2="113.60" stroke="#222" stroke-width="1.35"/>
<text transform="translate(811.52,102.00) scale(1.0,1)" font-size="15.2" text-anchor="middle" font-weight="normal" fill="#222" stroke="#222" stroke-width="0.3">50</text>
<line x1="841.06" y1="107.00" x2="841.06" y2="110.30" stroke="#222" stroke-width="2.50" stroke-opacity="0.22"/>
<line x1="841.06" y1="107.00" x2="841.06" y2="110.30" stroke="#222" stroke-width="1.15"/>
<line x1="872.50" y1="107.00" x2="872.50" y2="113.60" stroke="#222" stroke-width="2.70" stroke-opacity="0.22"/>
<line x1="872.50" y1="107.00" x2="872.50" y2="113.60" stroke="#222" stroke-width="1.35"/>
<text transform="translate(872.61,102.00) scale(1.0,1)" font-size="15.2" text-anchor="middle" font-weight="normal" fill="#222" stroke="#222" stroke-width="0.3">55</text>
<line x1="180.75" y1="136.80" x2="180.75" y2="143.30" stroke="#222" stroke-width="2.70" stroke-opacity="0.22"/>
<line x1="180.75" y1="136.80" x2="180.75" y2="143.30" stroke="#222" stroke-width="1.35"/>
<text transform="translate(180.35,131.40) scale(1.0,1)" font-size="15.2" text-anchor="middle" font-weight="normal" fill="#222" stroke="#222" stroke-width="0.3">0</text>
<line x1="206.94" y1="136.80" x2="206.94" y2="140.10" stroke="#222" stroke-width="2.50" stroke-opacity="0.22"/>
<line x1="206.94" y1="136.80" x2="206.94" y2="140.10" stroke="#222" stroke-width="1.15"/>
<line x1="233.12" y1="136.80" x2="233.12" y2="143.30" stroke="#222" stroke-width="2.70" stroke-opacity="0.22"/>
<line x1="233.12" y1="136.80" x2="233.12" y2="143.30" stroke="#222" stroke-width="1.35"/>
<text transform="translate(234.72,131.40) scale(1.0,1)" font-size="15.2" text-anchor="middle" font-weight="normal" fill="#222" stroke="#222" stroke-width="0.3">5</text>
<line x1="259.31" y1="136.80" x2="259.31" y2="140.10" stroke="#222" stroke-width="2.50" stroke-opacity="0.22"/>
<line x1="259.31" y1="136.80" x2="259.31" y2="140.10" stroke="#222" stroke-width="1.15"/>
<line x1="285.49" y1="136.80" x2="285.49" y2="143.30" stroke="#222" stroke-width="2.70" stroke-opacity="0.22"/>
<line x1="285.49" y1="136.80" x2="285.49" y2="143.30" stroke="#222" stroke-width="1.35"/>
<text transform="translate(287.09,131.40) scale(1.0,1)" font-size="15.2" text-anchor="middle" font-weight="normal" fill="#222" stroke="#222" stroke-width="0.3">10</text>
<line x1="311.68" y1="136.80" x2="311.68" y2="140.10" stroke="#222" stroke-width="2.50" stroke-opacity="0.22"/>
<line x1="311.68" y1="136.80" x2="311.68" y2="140.10" stroke="#222" stroke-width="1.15"/>
<line x1="337.86" y1="136.80" x2="337.86" y2="143.30" stroke="#222" stroke-width="2.70" stroke-opacity="0.22"/>
<line x1="337.86" y1="136.80" x2="337.86" y2="143.30" stroke="#222" stroke-width="1.35"/>
<text transform="translate(339.46,131.40) scale(1.0,1)" font-size="15.2" text-anchor="middle" font-weight="normal" fill="#222" stroke="#222" stroke-width="0.3">15</text>
<line x1="364.05" y1="136.80" x2="364.05" y2="140.10" stroke="#222" stroke-width="2.50" stroke-opacity="0.22"/>
<line x1="364.05" y1="136.80" x2="364.05" y2="140.10" stroke="#222" stroke-width="1.15"/>
<line x1="390.23" y1="136.80" x2="390.23" y2="143.30" stroke="#222" stroke-width="2.70" stroke-opacity="0.22"/>
<line x1="390.23" y1="136.80" x2="390.23" y2="143.30" stroke="#222" stroke-width="1.35"/>
<text transform="translate(391.83,131.40) scale(1.0,1)" font-size="15.2" text-anchor="middle" font-weight="normal" fill="#222" stroke="#222" stroke-width="0.3">20</text>
<line x1="416.41" y1="136.80" x2="416.41" y2="140.10" stroke="#222" stroke-width="2.50" stroke-opacity="0.22"/>
<line x1="416.41" y1="136.80" x2="416.41" y2="140.10" stroke="#222" stroke-width="1.15"/>
<line x1="442.60" y1="136.80" x2="442.60" y2="143.30" stroke="#222" stroke-width="2.70" stroke-opacity="0.22"/>
<line x1="442.60" y1="136.80" x2="442.60" y2="143.30" stroke="#222" stroke-width="1.35"/>
<text transform="translate(443.30,131.40) scale(1.0,1)" font-size="15.2" text-anchor="middle" font-weight="normal" fill="#222" stroke="#222" stroke-width="0.3">25</text>
<line x1="468.79" y1="136.80" x2="468.79" y2="140.10" stroke="#222" stroke-width="2.50" stroke-opacity="0.22"/>
<line x1="468.79" y1="136.80" x2="468.79" y2="140.10" stroke="#222" stroke-width="1.15"/>
<line x1="494.97" y1="136.80" x2="494.97" y2="143.30" stroke="#222" stroke-width="2.70" stroke-opacity="0.22"/>
<line x1="494.97" y1="136.80" x2="494.97" y2="143.30" stroke="#222" stroke-width="1.35"/>
<text transform="translate(496.57,131.40) scale(1.0,1)" font-size="15.2" text-anchor="middle" font-weight="normal" fill="#222" stroke="#222" stroke-width="0.3">30</text>
<line x1="521.15" y1="136.80" x2="521.15" y2="140.10" stroke="#222" stroke-width="2.50" stroke-opacity="0.22"/>
<line x1="521.15" y1="136.80" x2="521.15" y2="140.10" stroke="#222" stroke-width="1.15"/>
<line x1="547.34" y1="136.80" x2="547.34" y2="143.30" stroke="#222" stroke-width="2.70" stroke-opacity="0.22"/>
<line x1="547.34" y1="136.80" x2="547.34" y2="143.30" stroke="#222" stroke-width="1.35"/>
<text transform="translate(548.54,131.40) scale(1.0,1)" font-size="15.2" text-anchor="middle" font-weight="normal" fill="#222" stroke="#222" stroke-width="0.3">35</text>
<line x1="573.53" y1="136.80" x2="573.53" y2="140.10" stroke="#222" stroke-width="2.50" stroke-opacity="0.22"/>
<line x1="573.53" y1="136.80" x2="573.53" y2="140.10" stroke="#222" stroke-width="1.15"/>
<line x1="599.71" y1="136.80" x2="599.71" y2="143.30" stroke="#222" stroke-width="2.70" stroke-opacity="0.22"/>
<line x1="599.71" y1="136.80" x2="599.71" y2="143.30" stroke="#222" stroke-width="1.35"/>
<text transform="translate(601.31,131.40) scale(1.0,1)" font-size="15.2" text-anchor="middle" font-weight="normal" fill="#222" stroke="#222" stroke-width="0.3">40</text>
<line x1="625.89" y1="136.80" x2="625.89" y2="140.10" stroke="#222" stroke-width="2.50" stroke-opacity="0.22"/>
<line x1="625.89" y1="136.80" x2="625.89" y2="140.10" stroke="#222" stroke-width="1.15"/>
<line x1="652.08" y1="136.80" x2="652.08" y2="143.30" stroke="#222" stroke-width="2.70" stroke-opacity="0.22"/>
<line x1="652.08" y1="136.80" x2="652.08" y2="143.30" stroke="#222" stroke-width="1.35"/>
<text transform="translate(653.18,131.40) scale(1.0,1)" font-size="15.2" text-anchor="middle" font-weight="normal" fill="#222" stroke="#222" stroke-width="0.3">45</text>
<line x1="678.26" y1="136.80" x2="678.26" y2="140.10" stroke="#222" stroke-width="2.50" stroke-opacity="0.22"/>
<line x1="678.26" y1="136.80" x2="678.26" y2="140.10" stroke="#222" stroke-width="1.15"/>
<line x1="704.45" y1="136.80" x2="704.45" y2="143.30" stroke="#222" stroke-width="2.70" stroke-opacity="0.22"/>
<line x1="704.45" y1="136.80" x2="704.45" y2="143.30" stroke="#222" stroke-width="1.35"/>
<text transform="translate(705.85,131.40) scale(1.0,1)" font-size="15.2" text-anchor="middle" font-weight="normal" fill="#222" stroke="#222" stroke-width="0.3">50</text>
<line x1="730.63" y1="136.80" x2="730.63" y2="140.10" stroke="#222" stroke-width="2.50" stroke-opacity="0.22"/>
<line x1="730.63" y1="136.80" x2="730.63" y2="140.10" stroke="#222" stroke-width="1.15"/>
<line x1="756.82" y1="136.80" x2="756.82" y2="143.30" stroke="#222" stroke-width="2.70" stroke-opacity="0.22"/>
<line x1="756.82" y1="136.80" x2="756.82" y2="143.30" stroke="#222" stroke-width="1.35"/>
<text transform="translate(758.42,131.40) scale(1.0,1)" font-size="15.2" text-anchor="middle" font-weight="normal" fill="#222" stroke="#222" stroke-width="0.3">55</text>
<line x1="783.00" y1="136.80" x2="783.00" y2="140.10" stroke="#222" stroke-width="2.50" stroke-opacity="0.22"/>
<line x1="783.00" y1="136.80" x2="783.00" y2="140.10" stroke="#222" stroke-width="1.15"/>
<line x1="809.19" y1="136.80" x2="809.19" y2="143.30" stroke="#222" stroke-width="2.70" stroke-opacity="0.22"/>
<line x1="809.19" y1="136.80" x2="809.19" y2="143.30" stroke="#222" stroke-width="1.35"/>
<text transform="translate(810.59,131.40) scale(1.0,1)" font-size="15.2" text-anchor="middle" font-weight="normal" fill="#222" stroke="#222" stroke-width="0.3">60</text>
<line x1="835.38" y1="136.80" x2="835.38" y2="140.10" stroke="#222" stroke-width="2.50" stroke-opacity="0.22"/>
<line x1="835.38" y1="136.80" x2="835.38" y2="140.10" stroke="#222" stroke-width="1.15"/>
<line x1="861.56" y1="136.80" x2="861.56" y2="143.30" stroke="#222" stroke-width="2.70" stroke-opacity="0.22"/>
<line x1="861.56" y1="136.80" x2="861.56" y2="143.30" stroke="#222" stroke-width="1.35"/>
<text transform="translate(860.96,131.40) scale(1.0,1)" font-size="15.2" text-anchor="middle" font-weight="normal" fill="#222" stroke="#222" stroke-width="0.3">65</text>
<text transform="translate(887.90,100.70) scale(1.09,1)" font-size="16.2" text-anchor="start" font-weight="normal" fill="#222" stroke="#222" stroke-width="0.3">Imp gpm</text>
<text transform="translate(888.10,125.20) scale(1.1,1)" font-size="16.2" text-anchor="start" font-weight="normal" fill="#222" stroke="#222" stroke-width="0.3">US gpm</text>
<text transform="translate(933.40,147.00) scale(1.25,1)" font-size="11.7" text-anchor="middle" font-weight="normal" fill="#222" stroke="#222" stroke-width="0.15">H</text>
<text transform="translate(933.40,160.40) scale(1.36,1)" font-size="11.5" text-anchor="middle" font-weight="normal" fill="#222" stroke="#222" stroke-width="0.12">[ft]</text>
<text transform="translate(898.6,523.8) scale(1.08,1)" font-size="16" fill="#222">m<tspan font-size="10" dy="-6">3</tspan><tspan dy="6">/h</tspan></text>
<text transform="translate(898.80,548.00) scale(1.08,1)" font-size="16" text-anchor="start" font-weight="normal" fill="#222" stroke="#222" stroke-width="0.3">l/min</text>
<text x="371.2" y="196.6" font-size="16.6" font-weight="bold" fill="#151515" stroke="#151515" stroke-width="0.3" textLength="92.0" lengthAdjust="spacingAndGlyphs">LKS-1000P</text>
<text x="310.3" y="257.0" font-size="16.6" font-weight="bold" fill="#151515" stroke="#151515" stroke-width="0.3" textLength="82.0" lengthAdjust="spacingAndGlyphs">LKS-750P</text>
<text x="364.0" y="471.0" font-size="16.6" font-weight="bold" fill="#151515" stroke="#151515" stroke-width="0.3" textLength="81.6" lengthAdjust="spacingAndGlyphs">LKS-250P</text>
<text x="490.4" y="474.0" font-size="16.6" font-weight="bold" fill="#151515" stroke="#151515" stroke-width="0.3" textLength="81.6" lengthAdjust="spacingAndGlyphs">LKS-400P</text>
<text x="631.3" y="482.6" font-size="16.6" font-weight="bold" fill="#151515" stroke="#151515" stroke-width="0.3" textLength="82.0" lengthAdjust="spacingAndGlyphs">LKS-500P</text>
<text transform="translate(93.4,448.6) rotate(-90)" font-size="17.2" font-weight="bold" fill="#151515" stroke="#151515" stroke-width="0.25" textLength="245.5" lengthAdjust="spacingAndGlyphs">Total manometric head H<tspan dx="2.6">(m)</tspan></text>
<path d="M89.2 180.6 L94 192.8 L84.4 192.8 Z" fill="#111"/>
<text x="487.4" y="599.6" font-size="17.8" font-weight="bold" fill="#151515" stroke="#151515" stroke-width="0.25" textLength="93.4" lengthAdjust="spacingAndGlyphs">Capacity Q</text>
<path d="M597.2 590.4 L609.6 595.2 L597.2 600 Z" fill="#111"/>
</svg>
</body></html>
